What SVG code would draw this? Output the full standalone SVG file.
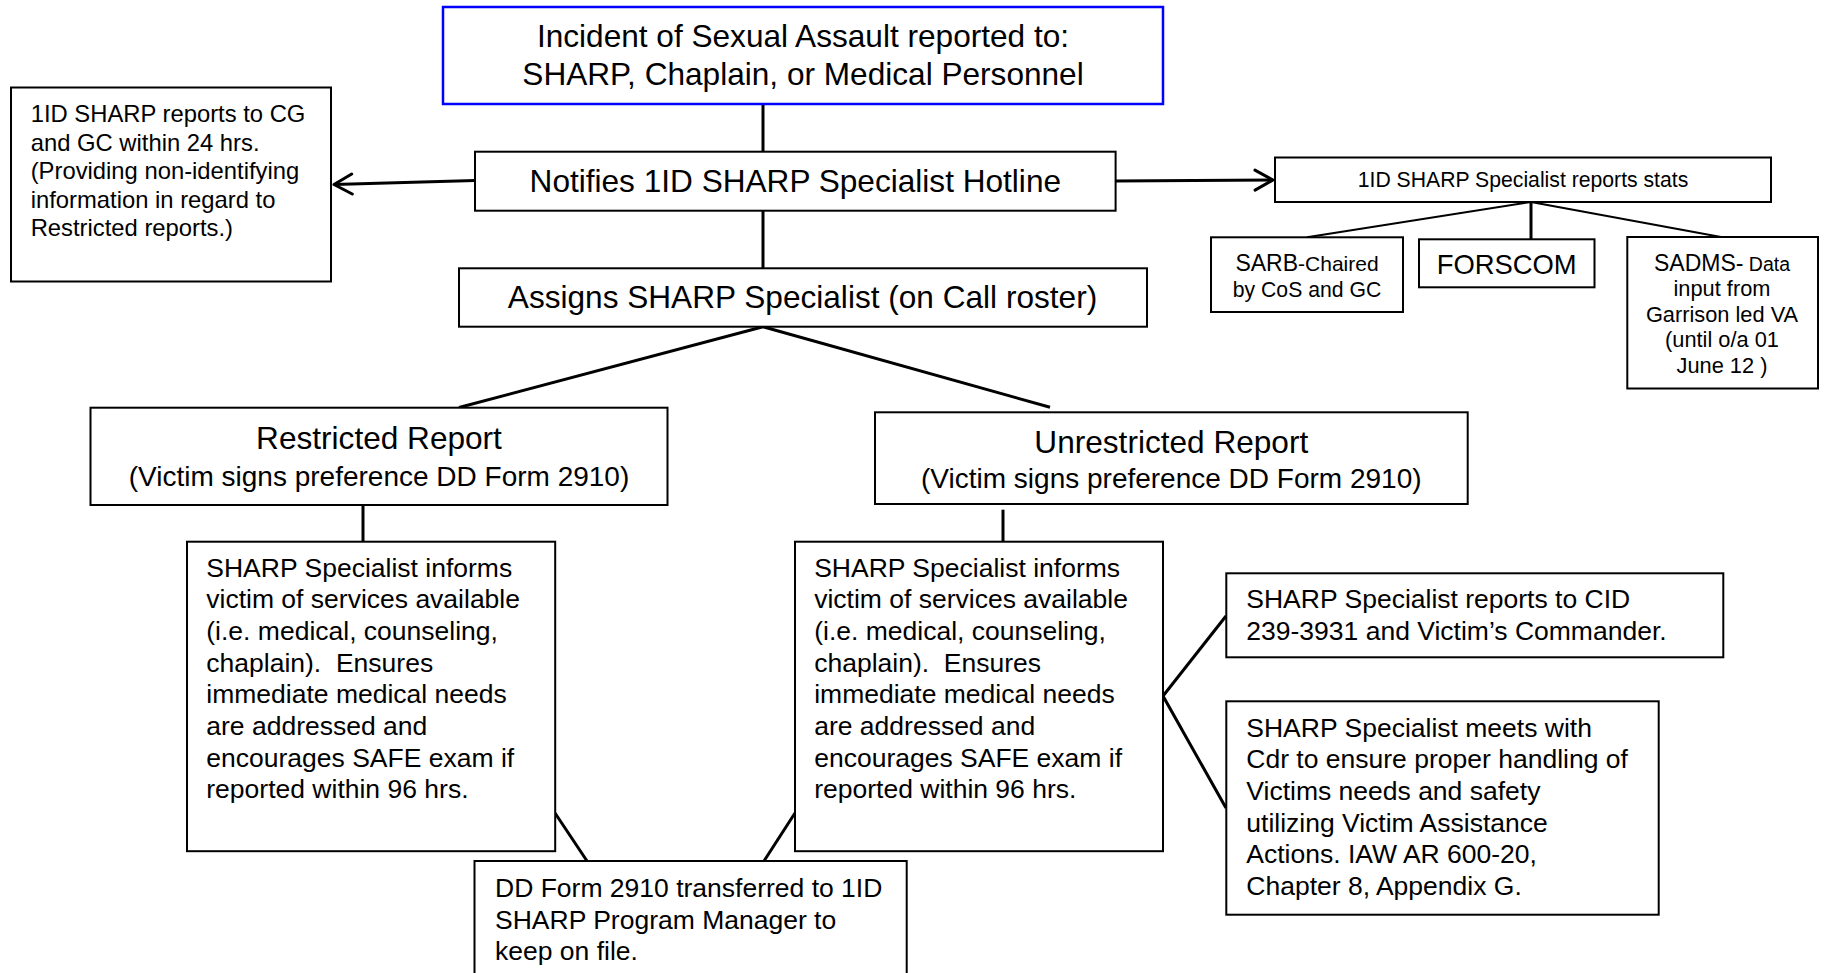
<svg xmlns="http://www.w3.org/2000/svg" width="1830" height="973" viewBox="0 0 1830 973">
  <defs>
    <style>
      .box{fill:#fff;stroke:#000;stroke-width:2}
      .blue{fill:#fff;stroke:#0000ff;stroke-width:2.5}
      text{font-family:"Liberation Sans",Arial,Helvetica,sans-serif;fill:#000}
      .t32{font-size:31.6px}
      .t28{font-size:28px}
      .t27{font-size:27.4px}
      .t26{font-size:26.5px}
      .t24{font-size:23.8px}
      .t22{font-size:21.8px}
      .t21{font-size:21.2px}
      .c{text-anchor:middle}
      .ln{stroke:#000;stroke-width:3;fill:none}
      .thin{stroke:#000;stroke-width:2;fill:none}
    </style>
    <marker id="arr" viewBox="-22 -12 24 24" markerWidth="24" markerHeight="24" refX="0" refY="0" orient="auto" markerUnits="userSpaceOnUse">
      <path d="M-18,-10 L0,0 L-18,10" fill="none" stroke="#000" stroke-width="3" stroke-linecap="round" stroke-linejoin="round"/>
    </marker>
  </defs>
  <rect width="1830" height="973" fill="#fff"/>

  <g id="connectors">
    <path class="ln" d="M763,104 V151.7"/>
    <path class="ln" d="M763,210.7 V268.3"/>
    <path class="ln" d="M763,326.7 L459,407.5"/>
    <path class="ln" d="M763,326.7 L1050,407.3"/>
    <path class="ln" d="M363,505 V541.7"/>
    <path class="ln" d="M1003,509.7 V545"/>
    <path class="ln" d="M555,813 L587,861"/>
    <path class="ln" d="M795,813 L764,861"/>
    <path class="ln" d="M1163,696 L1226,616"/>
    <path class="ln" d="M1163,696 L1226,808"/>
    <path class="ln" d="M475,180.5 L334,184.5" marker-end="url(#arr)"/>
    <path class="ln" d="M1115.6,181 L1273,180" marker-end="url(#arr)"/>
    <path class="thin" d="M1531,202 L1307,237.3"/>
    <path class="ln" d="M1531,202 V239.3"/>
    <path class="thin" d="M1531,202 L1721,237"/>
  </g>

  <g id="incident">
    <rect class="blue" x="443" y="7" width="720" height="97"/>
    <text class="t32 c" x="803" y="46.7">Incident of Sexual Assault reported to:</text>
    <text class="t32 c" x="803" y="85">SHARP, Chaplain, or Medical Personnel</text>
  </g>

  <g id="hotline">
    <rect class="box" x="475" y="151.7" width="640.6" height="59"/>
    <text class="t32 c" x="795.3" y="192.3">Notifies 1ID SHARP Specialist Hotline</text>
  </g>

  <g id="cg-report">
    <rect class="box" x="11" y="87.5" width="320" height="194"/>
    <text class="t24" x="30.7" y="122">1ID SHARP reports to CG</text>
    <text class="t24" x="30.7" y="150.5">and GC within 24 hrs.</text>
    <text class="t24" x="30.7" y="179">(Providing non-identifying</text>
    <text class="t24" x="30.7" y="207.7">information in regard to</text>
    <text class="t24" x="30.7" y="236.3">Restricted reports.)</text>
  </g>

  <g id="stats">
    <rect class="box" x="1275" y="157.5" width="496" height="44.5"/>
    <text class="t21 c" x="1523" y="187.3">1ID SHARP Specialist reports stats</text>
  </g>

  <g id="sarb">
    <rect class="box" x="1211" y="237.3" width="192" height="74.7"/>
    <text class="c" x="1307" y="270.5"><tspan style="font-size:23px">SARB</tspan><tspan style="font-size:21px">-Chaired</tspan></text>
    <text class="t21 c" x="1307" y="297">by CoS and GC</text>
  </g>

  <g id="forscom">
    <rect class="box" x="1419" y="239.3" width="175.5" height="48"/>
    <text class="t27 c" x="1506.7" y="273.5">FORSCOM</text>
  </g>

  <g id="sadms">
    <rect class="box" x="1627.3" y="237" width="190.7" height="151.5"/>
    <text class="c" x="1722" y="270.5"><tspan style="font-size:23px">SADMS-</tspan><tspan style="font-size:19.5px"> Data</tspan></text>
    <text class="t22 c" x="1722" y="296">input from</text>
    <text class="t22 c" x="1722" y="321.5">Garrison led VA</text>
    <text class="t22 c" x="1722" y="347">(until o/a 01</text>
    <text class="t22 c" x="1722" y="372.5">June 12 )</text>
  </g>

  <g id="assigns">
    <rect class="box" x="459" y="268.3" width="688" height="58.4"/>
    <text class="t32 c" x="802.5" y="308">Assigns SHARP Specialist (on Call roster)</text>
  </g>

  <g id="restricted">
    <rect class="box" x="90.5" y="407.7" width="577" height="97.3"/>
    <text class="t32 c" x="379" y="449">Restricted Report</text>
    <text class="t28 c" x="379" y="486">(Victim signs preference DD Form 2910)</text>
  </g>

  <g id="unrestricted">
    <rect class="box" x="875" y="412.3" width="592.7" height="91.7"/>
    <text class="t32 c" x="1171.3" y="453.3">Unrestricted Report</text>
    <text class="t28 c" x="1171.3" y="488.3">(Victim signs preference DD Form 2910)</text>
  </g>

  <g id="informs-restricted">
    <rect class="box" x="187" y="541.7" width="368.2" height="309.5"/>
    <text class="t26" x="206.3" y="576.7">SHARP Specialist informs</text>
    <text class="t26" x="206.3" y="608.4">victim of services available</text>
    <text class="t26" x="206.3" y="640">(i.e. medical, counseling,</text>
    <text class="t26" x="206.3" y="671.7" xml:space="preserve">chaplain).  Ensures</text>
    <text class="t26" x="206.3" y="703.3">immediate medical needs</text>
    <text class="t26" x="206.3" y="735">are addressed and</text>
    <text class="t26" x="206.3" y="766.7">encourages SAFE exam if</text>
    <text class="t26" x="206.3" y="798.3">reported within 96 hrs.</text>
  </g>

  <g id="informs-unrestricted">
    <rect class="box" x="795" y="541.7" width="368" height="309.5"/>
    <text class="t26" x="814.2" y="576.7">SHARP Specialist informs</text>
    <text class="t26" x="814.2" y="608.4">victim of services available</text>
    <text class="t26" x="814.2" y="640">(i.e. medical, counseling,</text>
    <text class="t26" x="814.2" y="671.7" xml:space="preserve">chaplain).  Ensures</text>
    <text class="t26" x="814.2" y="703.3">immediate medical needs</text>
    <text class="t26" x="814.2" y="735">are addressed and</text>
    <text class="t26" x="814.2" y="766.7">encourages SAFE exam if</text>
    <text class="t26" x="814.2" y="798.3">reported within 96 hrs.</text>
  </g>

  <g id="dd-form">
    <rect class="box" x="474.5" y="861" width="432.2" height="130"/>
    <text class="t26" x="495" y="897">DD Form 2910 transferred to 1ID</text>
    <text class="t26" x="495" y="928.6">SHARP Program Manager to</text>
    <text class="t26" x="495" y="960.2">keep on file.</text>
  </g>

  <g id="cid">
    <rect class="box" x="1226.3" y="573.3" width="497" height="84"/>
    <text class="t26" x="1246.3" y="608.3">SHARP Specialist reports to CID</text>
    <text class="t26" x="1246.3" y="640">239-3931 and Victim’s Commander.</text>
  </g>

  <g id="commander">
    <rect class="box" x="1226.3" y="701.3" width="432.4" height="213.4"/>
    <text class="t26" x="1246.3" y="736.7">SHARP Specialist meets with</text>
    <text class="t26" x="1246.3" y="768.3">Cdr to ensure proper handling of</text>
    <text class="t26" x="1246.3" y="800">Victims needs and safety</text>
    <text class="t26" x="1246.3" y="831.6">utilizing Victim Assistance</text>
    <text class="t26" x="1246.3" y="863.2">Actions. IAW AR 600-20,</text>
    <text class="t26" x="1246.3" y="894.8">Chapter 8, Appendix G.</text>
  </g>
</svg>
